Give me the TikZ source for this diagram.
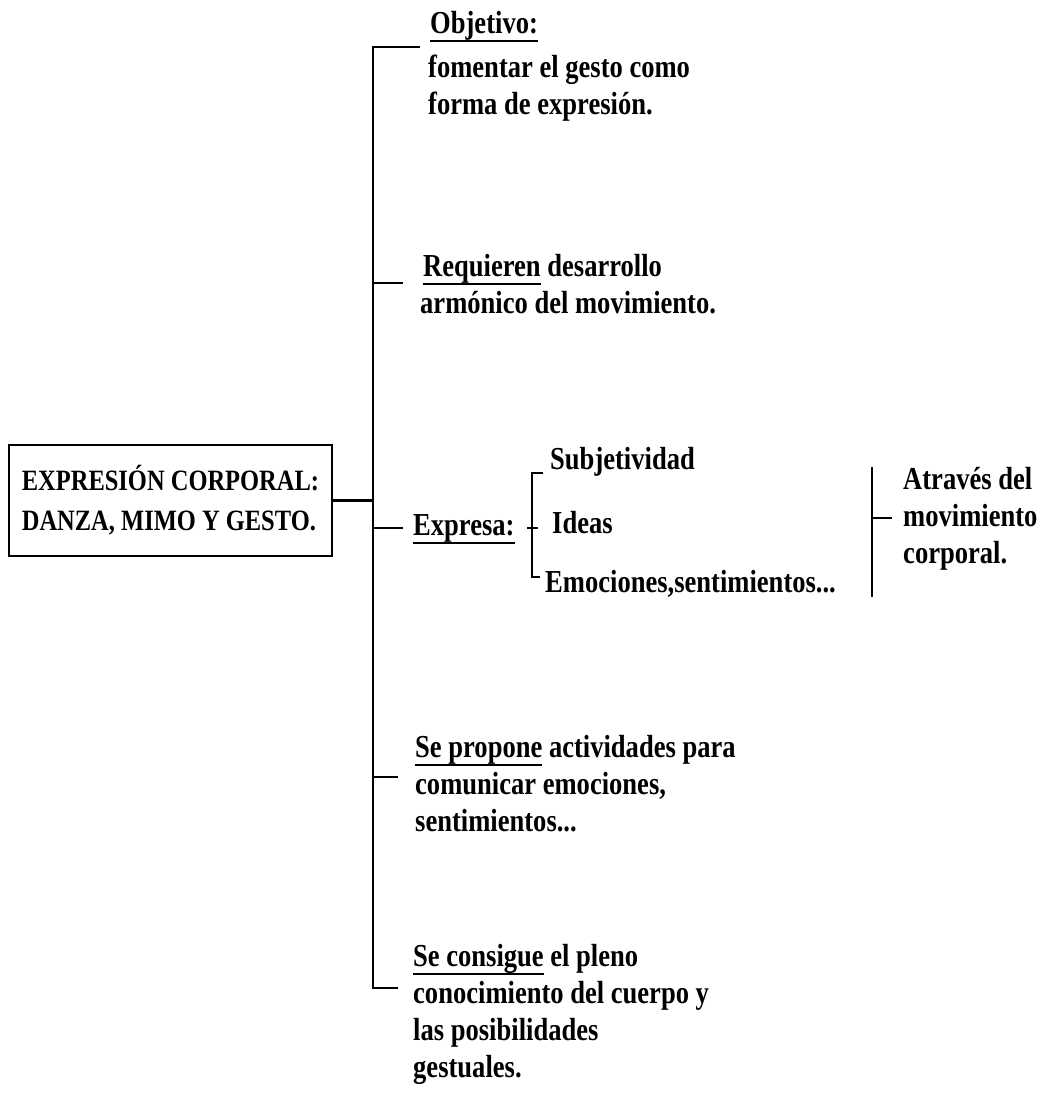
\documentclass[tikz,border=0pt]{standalone}
\usepackage{fontspec}
\setmainfont{Liberation Serif}[FakeStretch=0.83]
\newsavebox{\ulbox}
\newcommand{\subrayado}[1]{\sbox\ulbox{#1}\rlap{\rule[-9pt]{\wd\ulbox}{2.2pt}}\usebox\ulbox}
\tikzset{
  texto/.style={anchor=base west, inner sep=0pt, align=left,
    font=\fontsize{32}{37}\selectfont\bfseries},
  raya/.style={line width=2.2pt, black}
}
\begin{document}
\begin{tikzpicture}[x=1pt,y=-1pt]
    \useasboundingbox (0,0) rectangle (1047,1095);
    % eje principal
    \coordinate (top) at (373,47) ;
    \coordinate (bot) at (373,988) ;

    \node[draw, raya, inner sep=0pt, minimum width=323pt, minimum height=111pt,
      align=left, font=\fontsize{29.5}{40}\selectfont\bfseries] (main) at (170.5,500.5)
      {EXPRESIÓN CORPORAL:\\DANZA, MIMO Y GESTO.};

    % la base del nodo es la ultima linea
    \node[texto] (obj) at (430,114) {\subrayado{Objetivo:}\\[7pt]\hspace*{-2pt}fomentar el gesto como\\\hspace*{-2pt}forma de expresión.};
    \node[texto] (req) at (423,313) {\subrayado{Requieren} desarrollo\\\hspace*{-3pt}armónico del movimiento.};
    \node[texto] (exp) at (413,535) {\subrayado{Expresa:}};
    \node[texto] (subj) at (550,469) {Subjetividad};
    \node[texto] (ideas) at (552,533) {Ideas};
    \node[texto] (emoc) at (545,592) {Emociones,sentimientos...};
    \node[texto] (atr) at (903,563) {Através del\\movimiento\\corporal.};
    \node[texto] (prop) at (415,831) {\subrayado{Se propone} actividades para\\comunicar emociones,\\sentimientos...};
    \node[texto] (cons) at (413,1077) {\subrayado{Se consigue} el pleno\\conocimiento del cuerpo y\\las posibilidades\\gestuales.};

    % conectores
    \draw[raya] (top) ++(47,0) -- (top) -- (bot) -- ++(25,0);
    \draw[raya] (main.east) -- (main.east -| top);
    \draw[raya] (top |- 0,283) -- ++(30,0);
    \draw[raya] (top |- 0,528) -- ++(30,0);
    \draw[raya] (top |- 0,777) -- ++(25,0);

    % llave de expresa
    \coordinate (llaveA) at (532,473) ;
    \coordinate (llaveB) at (532,577) ;
    \draw[line width=1.8pt] (llaveA) ++(11,0) -- (llaveA) -- (llaveB) -- ++(8,0);
    \draw[line width=1.8pt] (527,528) -- (538,528);

    % llave de la derecha
    \coordinate (derA) at (872,467) ;
    \coordinate (derB) at (872,597) ;
    \draw[line width=1.8pt] (derA) -- (derB);
    \draw[line width=1.8pt] (derA |- 0,518) -- ++(20,0);
\end{tikzpicture}
\end{document}
